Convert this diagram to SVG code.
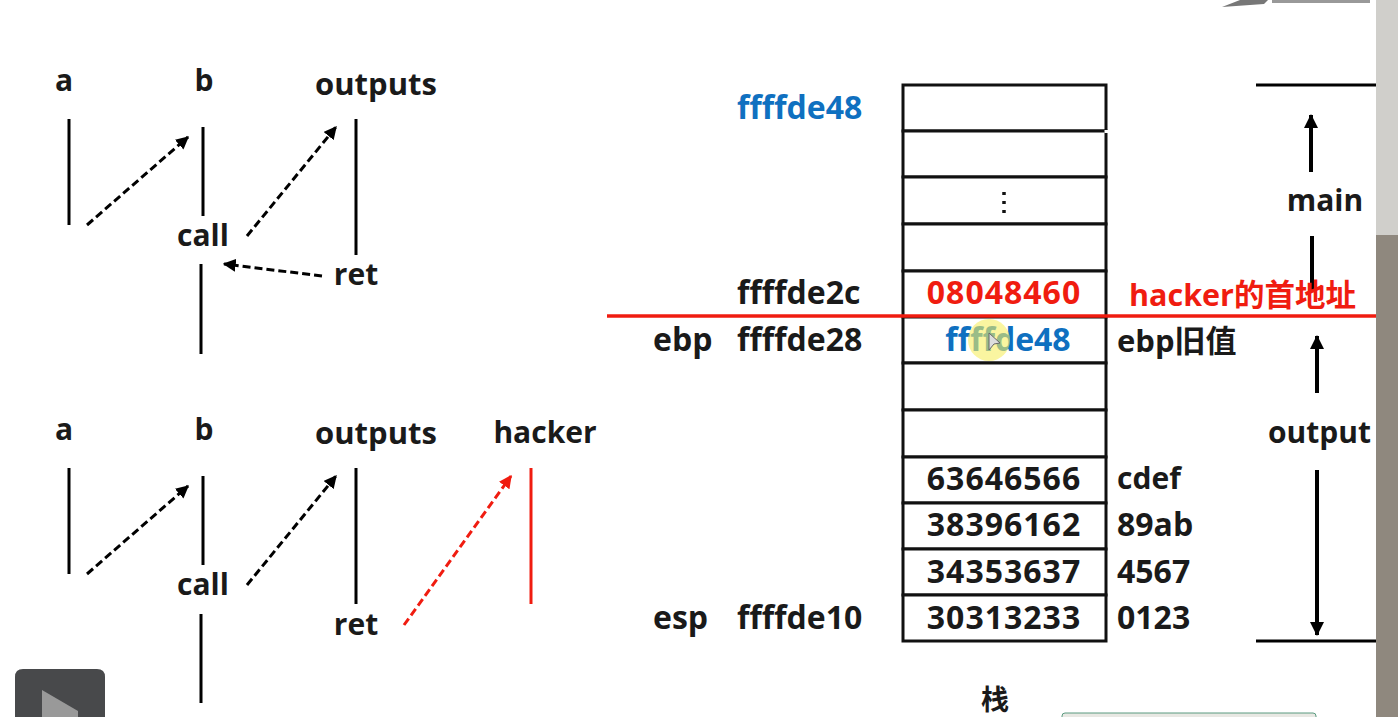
<svg xmlns="http://www.w3.org/2000/svg" width="1398" height="717" viewBox="0 0 1398 717">
<defs>
<marker id="ah" viewBox="0 0 10 10" refX="9" refY="5" markerWidth="13" markerHeight="13" markerUnits="userSpaceOnUse" orient="auto"><path d="M0 0L10 5L0 10Z" fill="#000"/></marker>
<marker id="ahr" viewBox="0 0 10 10" refX="9" refY="5" markerWidth="13" markerHeight="13" markerUnits="userSpaceOnUse" orient="auto"><path d="M0 0L10 5L0 10Z" fill="#f01c10"/></marker>
<marker id="big" viewBox="0 0 14 14" refX="13" refY="7" markerWidth="14" markerHeight="14" markerUnits="userSpaceOnUse" orient="auto"><path d="M0 0L14 7L0 14Z" fill="#000"/></marker>
</defs>
<style>
text{font-family:"Open Sans","Noto Sans CJK SC",sans-serif;font-weight:700;font-size:30px;fill:#1a1a1a}
.m{text-anchor:middle}
.n{font-size:32px}
.v{font-size:32px;letter-spacing:1px}
.o{font-size:31px}
.z{font-size:30.5px}
.l{stroke:#000;stroke-width:3;fill:none}
.d{stroke:#000;stroke-width:3;fill:none;stroke-dasharray:8 4;marker-end:url(#ah)}
.r{stroke:#f01c10}
.c{fill:#fff;stroke:#111;stroke-width:3}
.blue{fill:#0f70c0}
.red{fill:#f01c10}
</style>
<rect width="1398" height="717" fill="#fff"/>
<g id="top-edge"><path d="M1222 7L1240 0H1268L1264 4Z" fill="#777"/><path d="M1272 0H1370V3H1272Z" fill="#999"/></g>
<g id="scrollbar"><rect x="1376" y="0" width="22" height="235" fill="#d0cfcb"/><rect x="1376" y="235" width="22" height="482" fill="#8f887e"/></g>
<g id="connectors">
<path class="l" d="M69 119V225M203 127V216M356 119V255M201 264V354M69 468V574M203 476V565M356 468V604M201 614V703"/>
<path class="l r" d="M531 468V604"/>
<path class="d" d="M87 225L188 137"/>
<path class="d" d="M247 236L336 127"/>
<path class="d" d="M322 276L224 264"/>
<path class="d" d="M87 574L188 486"/>
<path class="d" d="M247 585L336 476"/>
<path class="d r" style="marker-end:url(#ahr)" d="M404 625L511 476"/>
<path class="l" d="M1256 85H1376M1256 641H1376"/>
<path class="l" style="stroke-width:4;marker-end:url(#big)" d="M1311 172V115"/>
<path class="l" style="stroke-width:4" d="M1312 236V290"/>
<path class="l" style="stroke-width:4;marker-end:url(#big)" d="M1317 393V336"/>
<path class="l" style="stroke-width:4;marker-end:url(#big)" d="M1317 470V635"/>
</g>
<g id="stack">
<rect class="c" x="903" y="85" width="203" height="46"/>
<rect class="c" x="903" y="131" width="203" height="46"/>
<rect class="c" x="903" y="177" width="203" height="47"/>
<rect class="c" x="903" y="224" width="203" height="47"/>
<rect class="c" x="903" y="271" width="203" height="46"/>
<rect class="c" x="903" y="317" width="203" height="46"/>
<rect class="c" x="903" y="363" width="203" height="47"/>
<rect class="c" x="903" y="410" width="203" height="47"/>
<rect class="c" x="903" y="457" width="203" height="46"/>
<rect class="c" x="903" y="503" width="203" height="46"/>
<rect class="c" x="903" y="549" width="203" height="46"/>
<rect class="c" x="903" y="595" width="203" height="46"/>
<rect x="1104.500" y="130" width="4" height="3" fill="#fff"/>
<path d="M1004 192v3M1004 201v3M1004 210v3" stroke="#111" stroke-width="3.500" fill="none"/>
</g>
<g id="labels-top">
<text class="m" x="64" y="91">a</text><text class="m" x="204" y="91">b</text><text class="m o" x="376" y="95">outputs</text>
<text class="m" x="203" y="246">call</text><text class="m" x="356" y="285">ret</text>
</g>
<g id="labels-bottom">
<text class="m" x="64" y="440">a</text><text class="m" x="204" y="440">b</text><text class="m o" x="376" y="444">outputs</text><text class="m" x="545" y="443">hacker</text>
<text class="m" x="203" y="595">call</text><text class="m" x="356" y="635">ret</text>
</g>
<g id="labels-stack">
<text class="blue n" x="737" y="119">ffffde48</text>
<text class="n" x="737" y="304">ffffde2c</text>
<text class="n" x="653" y="351">ebp</text><text class="n" x="737" y="351">ffffde28</text>
<text class="n" x="653" y="629">esp</text><text class="n" x="737" y="629">ffffde10</text>
<text class="m red v" x="1004" y="304">08048460</text>
<text class="m blue n" x="1008" y="351">ffffde48</text>
<text class="m v" x="1004" y="490">63646566</text>
<text class="m v" x="1004" y="536">38396162</text>
<text class="m v" x="1004" y="583">34353637</text>
<text class="m v" x="1004" y="629">30313233</text>
<text class="red" x="1129" y="306" style="font-size:30.500px">hacker的首地址</text>
<text x="1117" y="352" style="font-size:31px">ebp旧值</text>
<text x="1117" y="489">cdef</text><text class="n" x="1117" y="536">89ab</text><text class="n" x="1117" y="583">4567</text><text class="n" x="1117" y="629">0123</text>
<text class="m" x="1325" y="211">main</text>
<text x="1268" y="443">output</text>
<text class="m" x="995" y="710" style="font-size:28px">栈</text>
</g>
<g id="red-line"><path d="M607 316H1376" stroke="#f01c10" stroke-width="3.500" fill="none"/></g>
<g id="cursor"><circle cx="989" cy="340" r="21" fill="#f6ee60" opacity=".6"/><path d="M989 333l11 10l-6 1l-5 6Z" fill="#ddd" stroke="#666" stroke-width="1"/></g>
<g id="player"><path d="M15 717V677q0-8 8-8H97q8 0 8 8V717Z" fill="#48494b"/><path d="M42 690L78 711V717H42Z" fill="#999"/></g>
<g id="box-bottom"><path d="M1062 717V716q0-3 3-3H1313q3 0 3 3V717Z" fill="#e8e8e3"/><path d="M1062 717V716q0-3 3-3H1313q3 0 3 3V717" fill="none" stroke="#5a9a80" stroke-width="1"/></g>
</svg>
